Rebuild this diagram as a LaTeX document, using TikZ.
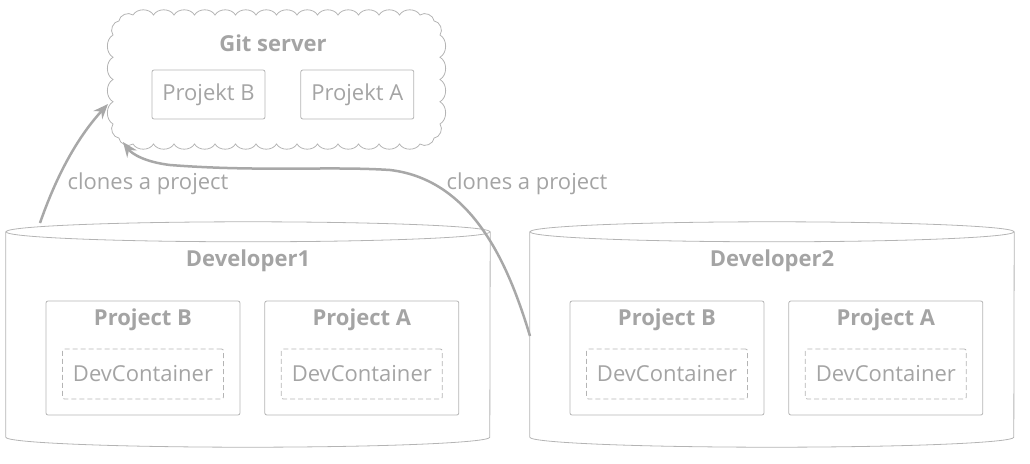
\documentclass[tikz,border=0pt]{standalone}
\usepackage{fontspec}
\setmainfont{Open Sans}
\usetikzlibrary{arrows.meta,positioning}
\usepackage{xcolor}
\definecolor{TxtGray}{HTML}{A4A4A4}
\definecolor{LineGray}{HTML}{B4B4B4}
\definecolor{ArrGray}{HTML}{A8A8A8}

\begin{document}
\begin{tikzpicture}[x=1pt, y=-1pt,
  title/.style={font=\fontsize{22}{26}\selectfont\bfseries, text=TxtGray},
  plain/.style={font=\fontsize{22}{26}\selectfont, text=TxtGray},
  projbox/.style={draw=LineGray, line width=0.8pt, rounded corners=2pt,
                  minimum width=194pt, minimum height=114pt},
  dcbox/.style={plain, draw=LineGray, line width=0.8pt, rounded corners=2pt,
                dash pattern=on 5pt off 3pt, minimum width=161pt, minimum height=50pt},
  srvbox/.style={plain, draw=LineGray, line width=0.8pt, rounded corners=2pt,
                 minimum width=113pt, minimum height=49pt},
  cylbox/.style={minimum width=484pt, minimum height=205pt, inner sep=0pt},
  cylline/.style={draw=LineGray, line width=0.8pt},
  puff/.style={bend left=60},
  flow/.style={draw=ArrGray, line width=2.5pt, -{Stealth[length=15pt, width=12pt, inset=5pt]}},
  node distance=24pt
]
  \useasboundingbox (0,0) rectangle (1030,463);

  % git server cloud
  \node[inner sep=0pt, minimum width=327pt, minimum height=129pt] (srv) at (276.5,79.5) {};
  \draw[cylline] (133,15)
    \foreach \k in {1,...,14} { to[puff] ({133+\k*20.5},15) }
    to[puff] (434.1,20.9) to[puff] (440,35)
    \foreach \k in {1,...,4} { to[puff] (440,{35+\k*22.25}) }
    to[puff] (434.1,138.1) to[puff] (420,144)
    \foreach \k in {1,...,14} { to[puff] ({420-\k*20.5},144) }
    to[puff] (118.9,138.1) to[puff] (113,124)
    \foreach \k in {1,...,4} { to[puff] (113,{124-\k*22.25}) }
    to[puff] (118.9,20.9) to[puff] (133,15);
  \node[title] (srvt) at (273,43) {Git server};
  \node[srvbox] (sb) at (208.5,94.5) {Projekt B};
  \node[srvbox, right=35pt of sb] (sa) {Projekt A};

  % developer machines
  \foreach \n/\cx in {1/248, 2/772} {
    \node[cylbox] (dev\n) at (\cx,334.5) {};
    \draw[cylline] (dev\n.north west) -- (dev\n.south west)
      arc[start angle=180, end angle=0, x radius=242, y radius=10] -- (dev\n.north east);
    \draw[cylline] (dev\n.north) ellipse[x radius=242, y radius=10];
    \node[title] (dev\n t) at (\cx,261) {Developer\n};
    \node[projbox] (pb\n) at (\cx-105,358) {};
    \node[projbox, right=24pt of pb\n] (pa\n) {};
    \node[title] (pb\n t) at ([yshift=-19pt]pb\n.north) {Project B};
    \node[title] (pa\n t) at ([yshift=-19pt]pa\n.north) {Project A};
    \node[dcbox] (dcb\n) at ([yshift=-16pt]pb\n.center) {DevContainer};
    \node[dcbox] (dca\n) at ([yshift=-16pt]pa\n.center) {DevContainer};
  }

  % clone connectors
  \coordinate (c1) at (40,223);
  \coordinate (c2) at (530,336);
  \coordinate (s1) at (108,104);
  \coordinate (s2) at (123,142);
  \draw[flow] (c1) .. controls (55,180) and (75,140) .. (s1);
  \draw[flow] (c2) .. controls (510,270) and (475,180) .. (390,170)
    .. controls (330,166) and (260,172) .. (170,165)
    .. controls (145,162) and (132,154) .. (s2);
  \node[plain] (l1) at (148,184) {clones a project};
  \node[plain] (l2) at (527,184) {clones a project};
\end{tikzpicture}
\end{document}
